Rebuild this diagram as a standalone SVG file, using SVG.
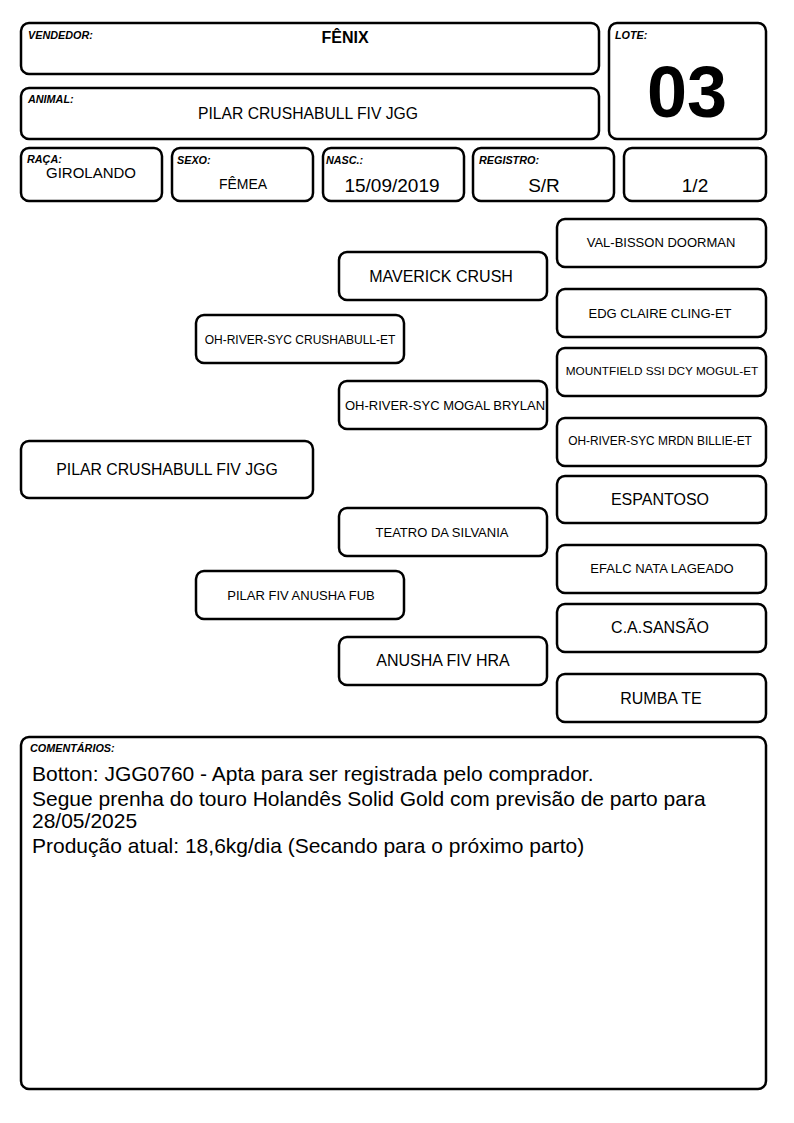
<svg xmlns="http://www.w3.org/2000/svg" width="794" height="1123" viewBox="0 0 794 1123">
<style>
.b{fill:#fff;stroke:#000;stroke-width:2.5}
.lbl{font-family:"Liberation Sans",Arial,sans-serif;font-size:10.8px;font-weight:bold;font-style:italic;fill:#000}
.t{font-family:"Liberation Sans",Arial,sans-serif;fill:#000;text-anchor:middle}
.c{font-family:"Liberation Sans",Arial,sans-serif;font-size:21px;fill:#000}
</style>
<rect width="794" height="1123" fill="#fff"/>
<g id="vendedor"><rect class="b" x="21" y="23" width="578" height="51" rx="8"/><text class="lbl" x="28" y="39">VENDEDOR:</text><text class="t" x="345" y="43" font-size="16" font-weight="bold">FÊNIX</text></g>
<g id="animal"><rect class="b" x="21" y="88" width="578" height="51" rx="8"/><text class="lbl" x="28" y="103">ANIMAL:</text><text class="t" x="308" y="119" font-size="15.7">PILAR CRUSHABULL FIV JGG</text></g>
<g id="lote"><rect class="b" x="609" y="23" width="157" height="116" rx="8"/><text class="lbl" x="615" y="39">LOTE:</text><text class="t" x="687" y="117" font-size="72" font-weight="bold">03</text></g>
<g id="raca"><rect class="b" x="21" y="148" width="141" height="53" rx="8"/><text class="lbl" x="27" y="163">RAÇA:</text><text class="t" x="91" y="178" font-size="15">GIROLANDO</text></g>
<g id="sexo"><rect class="b" x="172" y="148" width="141" height="53" rx="8"/><text class="lbl" x="177" y="164">SEXO:</text><text class="t" x="243" y="189" font-size="14">FÊMEA</text></g>
<g id="nasc"><rect class="b" x="323" y="148" width="141" height="53" rx="8"/><text class="lbl" x="326" y="164">NASC.:</text><text class="t" x="392" y="192" font-size="19">15/09/2019</text></g>
<g id="registro"><rect class="b" x="473" y="148" width="141" height="53" rx="8"/><text class="lbl" x="479" y="164">REGISTRO:</text><text class="t" x="544" y="192" font-size="19">S/R</text></g>
<g id="fracao"><rect class="b" x="624" y="148" width="142" height="53" rx="8"/><text class="t" x="695" y="192" font-size="19">1/2</text></g>
<g id="connectors"></g>
<g id="val-bisson"><rect class="b" x="557" y="219" width="209" height="48" rx="8"/><text class="t" x="661" y="247" font-size="13">VAL-BISSON DOORMAN</text></g>
<g id="maverick"><rect class="b" x="339" y="252" width="208" height="48" rx="8"/><text class="t" x="441" y="282" font-size="16">MAVERICK CRUSH</text></g>
<g id="edg"><rect class="b" x="557" y="289" width="209" height="48" rx="8"/><text class="t" x="660" y="318" font-size="13">EDG CLAIRE CLING-ET</text></g>
<g id="crushabull"><rect class="b" x="196" y="315" width="208" height="48" rx="8"/><text class="t" x="300" y="344" font-size="12">OH-RIVER-SYC CRUSHABULL-ET</text></g>
<g id="mountfield"><rect class="b" x="557" y="348" width="209" height="48" rx="8"/><text class="t" x="662" y="375" font-size="11.8">MOUNTFIELD SSI DCY MOGUL-ET</text></g>
<g id="brylan"><rect class="b" x="339" y="381" width="208" height="48" rx="8"/><text class="t" x="445" y="410" font-size="13">OH-RIVER-SYC MOGAL BRYLAN</text></g>
<g id="billie"><rect class="b" x="557" y="418" width="209" height="48" rx="8"/><text class="t" x="660" y="445" font-size="11.9">OH-RIVER-SYC MRDN BILLIE-ET</text></g>
<g id="pilar"><rect class="b" x="21" y="441" width="292" height="57" rx="8"/><text class="t" x="167" y="475" font-size="15.8">PILAR CRUSHABULL FIV JGG</text></g>
<g id="espantoso"><rect class="b" x="557" y="476" width="209" height="47" rx="8"/><text class="t" x="660" y="505" font-size="16">ESPANTOSO</text></g>
<g id="teatro"><rect class="b" x="339" y="508" width="208" height="48" rx="8"/><text class="t" x="442" y="537" font-size="13">TEATRO DA SILVANIA</text></g>
<g id="efalc"><rect class="b" x="557" y="545" width="209" height="48" rx="8"/><text class="t" x="662" y="573" font-size="13">EFALC NATA LAGEADO</text></g>
<g id="pilar-fiv"><rect class="b" x="196" y="571" width="208" height="48" rx="8"/><text class="t" x="301" y="600" font-size="13">PILAR FIV ANUSHA FUB</text></g>
<g id="sansao"><rect class="b" x="557" y="604" width="209" height="48" rx="8"/><text class="t" x="660" y="633" font-size="16">C.A.SANSÃO</text></g>
<g id="anusha"><rect class="b" x="339" y="637" width="208" height="48" rx="8"/><text class="t" x="443" y="666" font-size="16">ANUSHA FIV HRA</text></g>
<g id="rumba"><rect class="b" x="557" y="674" width="209" height="48" rx="8"/><text class="t" x="661" y="704" font-size="16">RUMBA TE</text></g>
<g id="comentarios"><rect class="b" x="21" y="737" width="745" height="352" rx="8"/><text class="lbl" x="30" y="752">COMENTÁRIOS:</text>
<text class="c" x="32" y="781">Botton: JGG0760 - Apta para ser registrada pelo comprador.</text>
<text class="c" x="32" y="806">Segue prenha do touro Holandês Solid Gold com previsão de parto para</text>
<text class="c" x="32" y="828">28/05/2025</text>
<text class="c" x="32" y="853">Produção atual: 18,6kg/dia (Secando para o próximo parto)</text></g>
</svg>
